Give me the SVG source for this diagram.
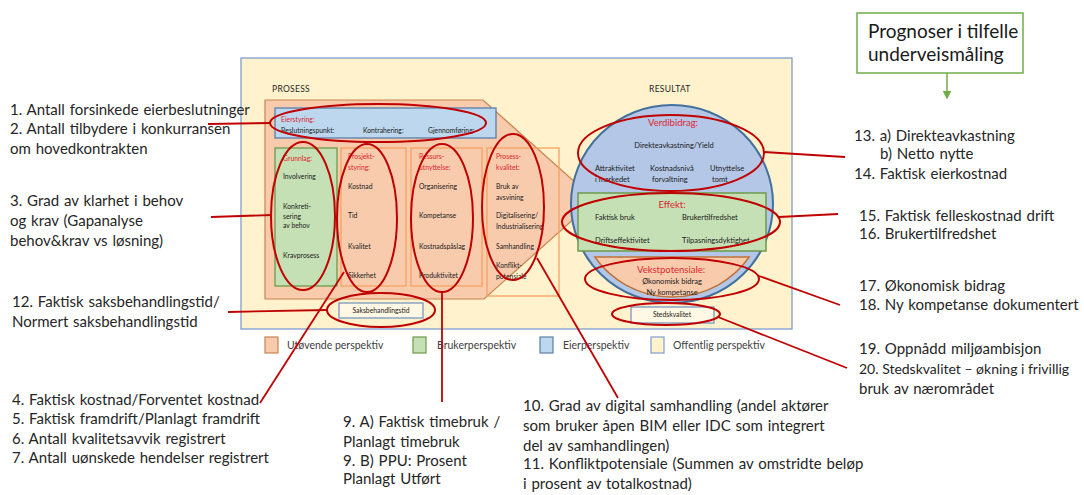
<svg xmlns="http://www.w3.org/2000/svg" width="1084" height="495" viewBox="0 0 1084 495">
  <style>
    .note { font-family: Lato, "Liberation Sans", sans-serif; font-size: 15px; fill: #262626; word-spacing: 1px; }
    .note-tight { font-size: 14px; word-spacing: 0; }
    .big { font-family: Lato, "Liberation Sans", sans-serif; font-size: 19px; fill: #1a1a1a; }
    .tiny { font-family: Lato, "Liberation Sans", sans-serif; font-size: 6.8px; fill: #1a1a1a; }
    .tinyr { font-family: Lato, "Liberation Sans", sans-serif; font-size: 6.8px; fill: #e0262e; }
    .small { font-family: Lato, "Liberation Sans", sans-serif; font-size: 7.5px; fill: #1a1a1a; }
    .head { font-family: Lato, "Liberation Sans", sans-serif; font-size: 9.5px; fill: #e0262e; }
    .cap { font-family: Lato, "Liberation Sans", sans-serif; font-size: 8.5px; fill: #262626; letter-spacing: 0.3px; }
    .legend { font-family: Lato, "Liberation Sans", sans-serif; font-size: 10.5px; fill: #404040; }
    .ring { fill: none; stroke: #c00000; stroke-width: 2; }
    .link { fill: none; stroke: #c00000; stroke-width: 1.8; }
    .sub { fill: none; stroke: #f4a262; stroke-width: 1.3; }
    .mid { text-anchor: middle; }
  </style>
  <defs>
    <marker id="greenHead" viewBox="0 0 10 10" refX="5" refY="5" markerWidth="6" markerHeight="6" orient="auto">
      <path d="M0,0 L10,5 L0,10 Z" fill="#70ad47"/>
    </marker>
  </defs>

  <rect width="1084" height="495" fill="#ffffff"/>

  <!-- frame -->
  <g id="frame">
    <rect x="241" y="58" width="551" height="271" fill="#fff2cc" stroke="#7f9fcf" stroke-width="1.3"/>
    <text class="cap" x="272" y="92">PROSESS</text>
    <text class="cap" x="649" y="92">RESULTAT</text>
  </g>

  <!-- process arrow -->
  <g id="prosess">
    <polygon points="265,100 483,100 595,200 484,299 265,299" fill="#f8cbad" stroke="#c98452" stroke-width="1.2"/>
  </g>

  <g id="eierstyring">
    <rect x="275" y="108" width="221" height="30" fill="#bdd7ee" stroke="#5b7fa8" stroke-width="1.3"/>
    <text class="tinyr" x="281" y="122">Eierstyring:</text>
    <text class="tiny" x="281" y="133">Beslutningspunkt:</text>
    <text class="tiny" x="363" y="133">Kontrahering:</text>
    <text class="tiny" x="428" y="133">Gjennomføring:</text>
  </g>

  <g id="grunnlag">
    <rect x="275" y="148" width="62" height="138" fill="#c5e0b4" stroke="#6e9a4a" stroke-width="1.3"/>
    <text class="tinyr" x="283" y="161">Grunnlag:</text>
    <text class="tiny" x="283" y="179">Involvering</text>
    <text class="tiny" x="283" y="209">Konkreti-</text>
    <text class="tiny" x="283" y="219">sering</text>
    <text class="tiny" x="283" y="228">av behov</text>
    <text class="tiny" x="283" y="258">Kravprosess</text>
  </g>

  <g id="prosjektstyring">
    <rect class="sub" x="341" y="148" width="65" height="138"/>
    <text class="tinyr" x="348" y="159">Prosjekt-</text>
    <text class="tinyr" x="348" y="170">styring:</text>
    <text class="tiny" x="348" y="189">Kostnad</text>
    <text class="tiny" x="348" y="218">Tid</text>
    <text class="tiny" x="348" y="249">Kvalitet</text>
    <text class="tiny" x="348" y="278">Sikkerhet</text>
  </g>

  <g id="ressursutnyttelse">
    <rect class="sub" x="411" y="148" width="71" height="138"/>
    <text class="tinyr" x="419" y="159">Ressurs-</text>
    <text class="tinyr" x="419" y="170">utnyttelse:</text>
    <text class="tiny" x="419" y="189">Organisering</text>
    <text class="tiny" x="419" y="218">Kompetanse</text>
    <text class="tiny" x="419" y="249">Kostnadspåslag</text>
    <text class="tiny" x="419" y="278">Produktivitet</text>
  </g>

  <g id="prosesskvalitet">
    <rect class="sub" x="487" y="148" width="72" height="148"/>
    <text class="tinyr" x="496" y="159">Prosess-</text>
    <text class="tinyr" x="496" y="170">kvalitet:</text>
    <text class="tiny" x="496" y="189">Bruk av</text>
    <text class="tiny" x="496" y="200">avsvining</text>
    <text class="tiny" x="496" y="218">Digitalisering/</text>
    <text class="tiny" x="496" y="229">Industrialisering</text>
    <text class="tiny" x="496" y="249">Samhandling</text>
    <text class="tiny" x="496" y="268">Konflikt-</text>
    <text class="tiny" x="496" y="279">potensiale</text>
  </g>

  <g id="saksbehandlingstid">
    <rect x="339" y="303" width="84" height="15" fill="#fff8e4" stroke="#6e8fbf" stroke-width="1.2"/>
    <text class="tiny mid" x="381" y="313">Saksbehandlingstid</text>
  </g>

  <!-- result side -->
  <g id="verdibidrag">
    <ellipse cx="672" cy="204" rx="101" ry="99" fill="#b4c7e7" stroke="#41719c" stroke-width="2"/>
    <text class="head mid" x="673" y="126">Verdibidrag:</text>
    <text class="small mid" x="674" y="148">Direkteavkastning/Yield</text>
    <text class="small" x="595" y="171">Attraktivitet</text>
    <text class="small" x="595" y="182">i markedet</text>
    <text class="small" x="650" y="171">Kostnadsnivå</text>
    <text class="small" x="652" y="182">forvaltning</text>
    <text class="small" x="710" y="171">Utnyttelse</text>
    <text class="small" x="712" y="182">tomt</text>
  </g>

  <g id="effekt">
    <rect x="578" y="193" width="188" height="58" fill="#c5e0b4" stroke="#6e9a4a" stroke-width="1.5"/>
    <text class="head mid" x="672" y="208">Effekt:</text>
    <text class="small" x="595" y="220">Faktisk bruk</text>
    <text class="small" x="682" y="220">Brukertilfredshet</text>
    <text class="small" x="595" y="243">Driftseffektivitet</text>
    <text class="small" x="682" y="243">Tilpasningsdyktighet</text>
  </g>

  <g id="vekstpotensiale">
    <path d="M594.8,257 L749.2,257 A94,93 0 0 1 594.8,257 Z" fill="#f8cbad" stroke="#c0733a" stroke-width="1.5"/>
    <text class="head mid" x="671" y="273">Vekstpotensiale:</text>
    <text class="small mid" x="672" y="284">Økonomisk bidrag</text>
    <text class="small mid" x="672" y="295">Ny kompetanse</text>
  </g>

  <g id="stedskvalitet">
    <rect x="631" y="307" width="83" height="16" fill="#fff8e4" stroke="#6e8fbf" stroke-width="1.2"/>
    <text class="tiny mid" x="672" y="317">Stedskvalitet</text>
  </g>

  <!-- legend -->
  <g id="legend">
    <rect x="265" y="337" width="13" height="16" fill="#f8cbad" stroke="#c98452" stroke-width="1.2"/>
    <text class="legend" x="287" y="349">Utøvende perspektiv</text>
    <rect x="413" y="337" width="13" height="16" fill="#c5e0b4" stroke="#6e9a4a" stroke-width="1.2"/>
    <text class="legend" x="437" y="349">Brukerperspektiv</text>
    <rect x="540" y="337" width="13" height="16" fill="#bdd7ee" stroke="#5b7fa8" stroke-width="1.2"/>
    <text class="legend" x="563" y="349">Eierperspektiv</text>
    <rect x="651" y="337" width="13" height="16" fill="#fff2cc" stroke="#7f9fcf" stroke-width="1.2"/>
    <text class="legend" x="673" y="349">Offentlig perspektiv</text>
  </g>

  <g id="prognoser">
    <rect x="857" y="13" width="166" height="60" fill="#ffffff" stroke="#70ad47" stroke-width="1.5"/>
    <text class="big" x="868" y="38">Prognoser i tilfelle</text>
    <text class="big" x="868" y="61">underveismåling</text>
  </g>

  <!-- red highlight rings and their leader lines -->
  <g id="connectors">
    <ellipse class="ring" cx="378" cy="123" rx="108" ry="19"/>
    <ellipse class="ring" cx="303" cy="216" rx="32" ry="74"/>
    <ellipse class="ring" cx="367" cy="218" rx="30" ry="74"/>
    <ellipse class="ring" cx="442" cy="218" rx="31" ry="74"/>
    <ellipse class="ring" cx="513" cy="207" rx="31" ry="73"/>
    <ellipse class="ring" cx="381" cy="310" rx="54" ry="17"/>
    <ellipse class="ring" cx="671" cy="153" rx="93" ry="38"/>
    <ellipse class="ring" cx="671" cy="222" rx="109" ry="29"/>
    <ellipse class="ring" cx="672" cy="279" rx="87" ry="21"/>
    <ellipse class="ring" cx="666" cy="314" rx="54" ry="11"/>

    <line class="link" x1="208" y1="124" x2="271" y2="123"/>
    <line class="link" x1="211" y1="217" x2="272" y2="215"/>
    <line class="link" x1="228" y1="312" x2="327" y2="310"/>
    <line class="link" x1="260" y1="403" x2="344" y2="272"/>
    <line class="link" x1="442" y1="292" x2="442" y2="402"/>
    <line class="link" x1="537" y1="258" x2="618" y2="398"/>
    <line class="link" x1="764" y1="152" x2="845" y2="157"/>
    <line class="link" x1="779" y1="217" x2="838" y2="214"/>
    <line class="link" x1="759" y1="276" x2="840" y2="305"/>
    <line class="link" x1="718" y1="317" x2="847" y2="368"/>

    <line x1="947" y1="73" x2="947" y2="95" stroke="#70ad47" stroke-width="1.5" marker-end="url(#greenHead)"/>
  </g>

  <!-- indicator notes -->
  <g id="notes-left">
    <text class="note" x="10" y="115">1. Antall forsinkede eierbeslutninger</text>
    <text class="note" x="10" y="134">2. Antall tilbydere i konkurransen</text>
    <text class="note" x="10" y="154">om hovedkontrakten</text>
    <text class="note" x="10" y="206">3. Grad av klarhet i behov</text>
    <text class="note" x="10" y="226">og krav (Gapanalyse</text>
    <text class="note" x="10" y="246">behov&amp;krav vs løsning)</text>
    <text class="note" x="12" y="307">12. Faktisk saksbehandlingstid/</text>
    <text class="note" x="12" y="327">Normert saksbehandlingstid</text>
    <text class="note" x="12" y="405">4. Faktisk kostnad/Forventet kostnad</text>
    <text class="note" x="12" y="424">5. Faktisk framdrift/Planlagt framdrift</text>
    <text class="note" x="12" y="444">6. Antall kvalitetsavvik registrert</text>
    <text class="note" x="12" y="463">7. Antall uønskede hendelser registrert</text>
  </g>

  <g id="notes-bottom">
    <text class="note" x="343" y="427">9. A) Faktisk timebruk /</text>
    <text class="note" x="343" y="447">Planlagt timebruk</text>
    <text class="note" x="343" y="466">9. B) PPU: Prosent</text>
    <text class="note" x="343" y="484">Planlagt Utført</text>
    <text class="note" x="523" y="411">10. Grad av digital samhandling (andel aktører</text>
    <text class="note" x="523" y="431">som bruker åpen BIM eller IDC som integrert</text>
    <text class="note" x="523" y="451">del av samhandlingen)</text>
    <text class="note" x="523" y="469">11. Konfliktpotensiale (Summen av omstridte beløp</text>
    <text class="note" x="523" y="489">i prosent av totalkostnad)</text>
  </g>

  <g id="notes-right">
    <text class="note" x="854" y="141">13. a) Direkteavkastning</text>
    <text class="note" x="880" y="159">b) Netto nytte</text>
    <text class="note" x="854" y="179">14. Faktisk eierkostnad</text>
    <text class="note" x="859" y="221">15. Faktisk felleskostnad drift</text>
    <text class="note" x="859" y="239">16. Brukertilfredshet</text>
    <text class="note" x="859" y="291">17. Økonomisk bidrag</text>
    <text class="note" x="859" y="310">18. Ny kompetanse dokumentert</text>
    <text class="note" x="859" y="354">19. Oppnådd miljøambisjon</text>
    <text class="note note-tight" x="859" y="374">20. Stedskvalitet – økning i frivillig</text>
    <text class="note" x="859" y="394">bruk av nærområdet</text>
  </g>
</svg>
